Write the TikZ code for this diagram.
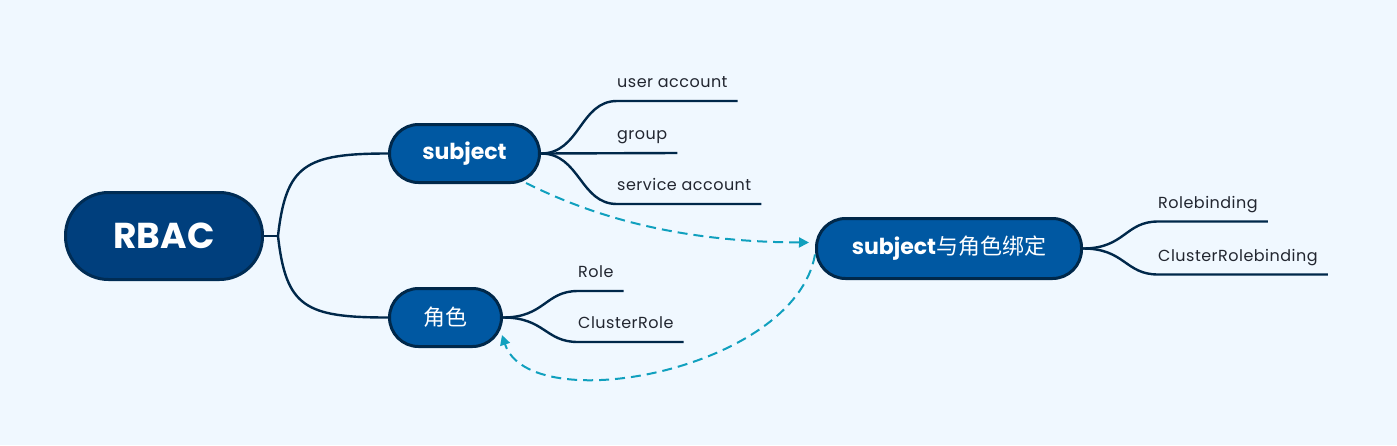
\documentclass[tikz,border=0pt]{standalone}
\usepackage{fontspec}
\setmainfont{Poppins}
\newfontfamily\leaffont[LetterSpace=3]{Poppins}
\newfontfamily\cjk{Noto Sans CJK SC}
\usetikzlibrary{arrows.meta,calc}
\definecolor{bgcol}{RGB}{240,248,255}
\definecolor{rootfill}{RGB}{0,63,125}
\definecolor{rootborder}{RGB}{0,44,84}
\definecolor{topfill}{RGB}{0,88,162}
\definecolor{topborder}{RGB}{0,40,74}
\definecolor{linecol}{RGB}{0,40,74}
\definecolor{linkcol}{RGB}{16,160,190}
\definecolor{leaftext}{RGB}{34,38,48}
\begin{document}
\begin{tikzpicture}[x=1pt,y=-1pt,
  root/.style={draw=rootborder, fill=rootfill, line width=3pt, rounded corners=43pt,
    minimum width=197pt, minimum height=87pt, text=white, inner sep=0pt,
    font=\fontsize{36}{40}\selectfont\bfseries},
  topic/.style={draw=topborder, fill=topfill, line width=3pt, rounded corners=29pt,
    minimum height=58pt, text=white, inner sep=0pt,
    font=\fontsize{22}{26}\selectfont\bfseries},
  leaf/.style={anchor=base west, inner sep=0pt, text=leaftext,
    font=\leaffont\fontsize{16}{19}\selectfont},
  branch/.style={draw=linecol, line width=2.4pt},
  linkarrow/.style={draw=linkcol, line width=2pt, dash pattern=on 10pt off 6pt,
    -{Triangle[length=10pt,width=10pt]}}]
\path[fill=bgcol] (0,0) rectangle (1397,445);

% main nodes
\node[root] (rbac) at (164,236) {RBAC};
\node[topic, minimum width=150pt] (subj) at (464.5,153.5) {subject};
\node[topic, minimum width=112pt] (role) at (445.5,317.5) {\cjk\mdseries 角色};
\node[topic, minimum width=265pt, minimum height=60pt] (bind) at (949,248.5) {subject{\cjk\mdseries 与角色绑定}};

% root fork
\coordinate (fork) at (278,236);
\draw[branch] (rbac.east) -- (fork);
\draw[branch] (fork) .. controls (286,165) and (305,153.5) .. (subj.west);
\draw[branch] (fork) .. controls (286,307) and (305,317.5) .. (role.west);

% subject leaves
\node[leaf] (ua) at (617,87) {user account};
\node[leaf] (grp) at (617,139) {group};
\node[leaf] (sa) at (617,190) {service account};
\draw[branch] (subj.east) .. controls (580,153.5) and (580,101) .. (617,101) -- ($(ua.base east)+(10,14)$);
\draw[branch] (subj.east) -- ($(grp.base east)+(10,14)$);
\draw[branch] (subj.east) .. controls (580,153.5) and (580,204) .. (617,204) -- ($(sa.base east)+(10,14)$);

% role leaves
\node[leaf] (r1) at (578,277.5) {Role};
\node[leaf] (r2) at (578,328.5) {ClusterRole};
\draw[branch] (role.east) .. controls (545,317.5) and (545,291) .. (578,291) -- ($(r1.base east)+(10,13.5)$);
\draw[branch] (role.east) .. controls (545,317.5) and (545,342) .. (578,342) -- ($(r2.base east)+(10,13.5)$);

% binding leaves
\node[leaf] (b1) at (1158,208) {Rolebinding};
\node[leaf] (b2) at (1158,261) {ClusterRolebinding};
\draw[branch] (bind.east) .. controls (1125,248.5) and (1125,221.5) .. (1158,221.5) -- ($(b1.base east)+(10,13.5)$);
\draw[branch] (bind.east) .. controls (1125,248.5) and (1125,274.5) .. (1158,274.5) -- ($(b2.base east)+(10,13.5)$);

% dashed links
\draw[linkarrow] ($(subj.south east)+(-15,-1)$) .. controls (610,225) and (700,242) .. ($(bind.west)+(-6,-6)$);
\draw[linkarrow] ($(bind.west)+(0,6)$) .. controls (795,370) and (530,420) .. ($(role.south east)+(-1,-13)$);
\end{tikzpicture}
\end{document}
